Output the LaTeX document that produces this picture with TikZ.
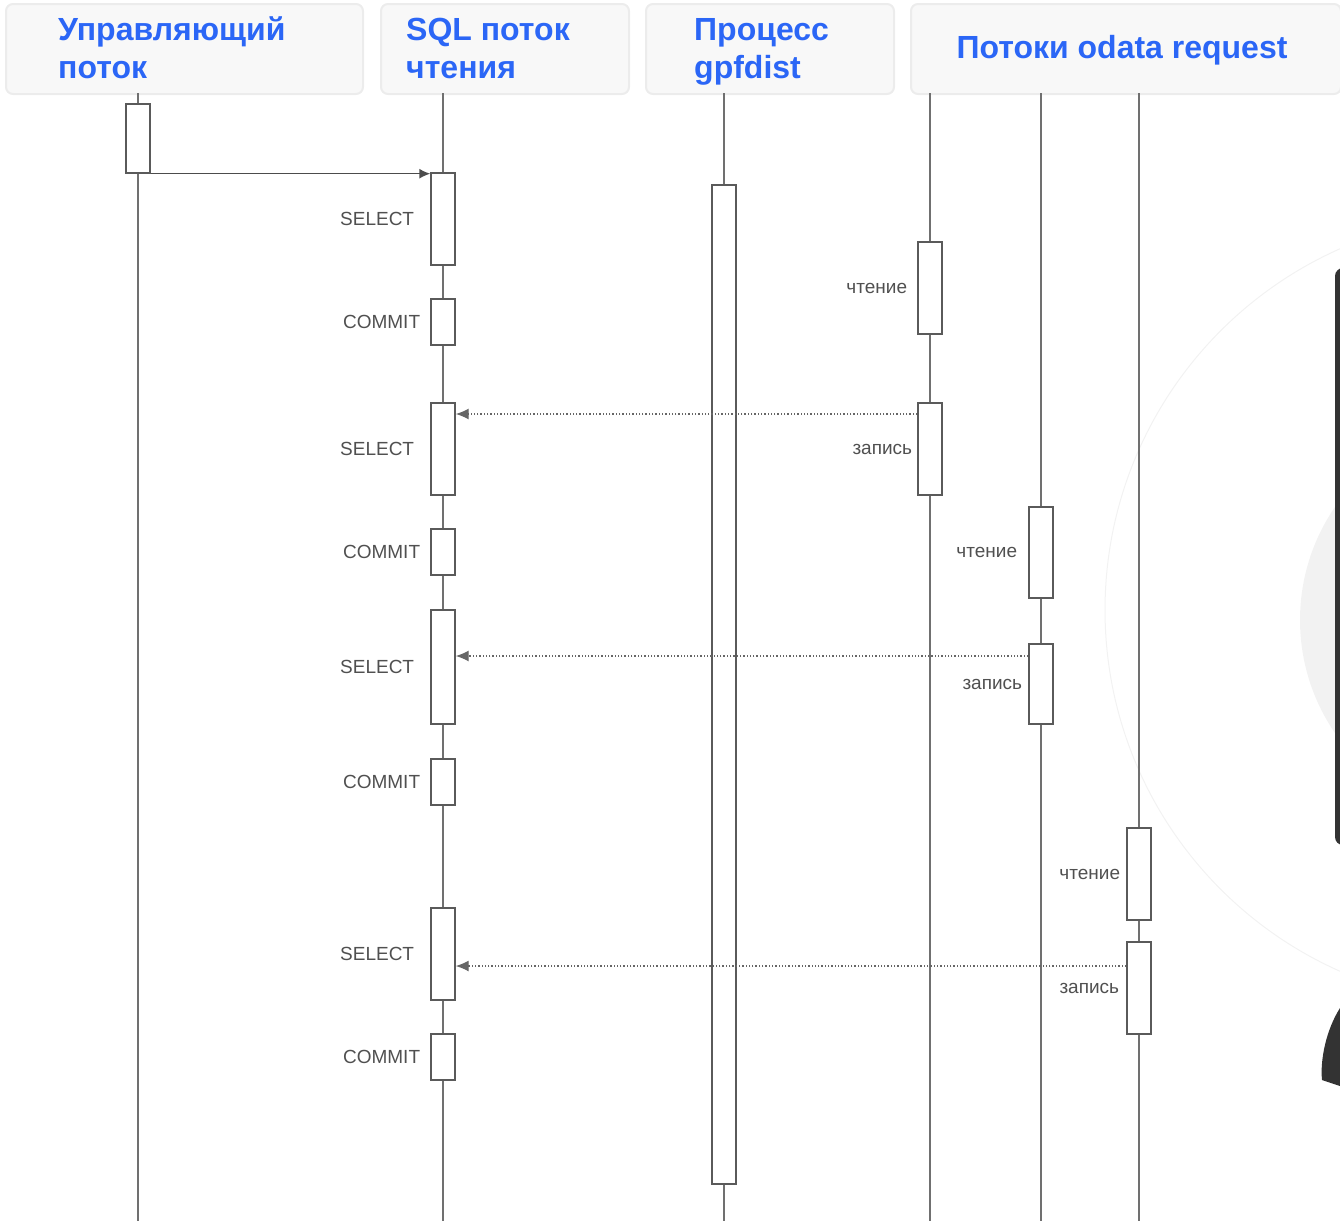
\documentclass[tikz,border=0pt]{standalone}
\usepackage{fontspec}
\setmainfont{Liberation Sans}
\usetikzlibrary{positioning,arrows.meta}

\definecolor{headblue}{HTML}{2B66F6}
\definecolor{headfill}{HTML}{F8F8F8}
\definecolor{headline}{HTML}{ECECEC}
\definecolor{lifegray}{HTML}{707070}
\definecolor{boxgray}{HTML}{5A5A5A}
\definecolor{lblgray}{HTML}{505050}

\begin{document}
\begin{tikzpicture}[x=1pt,y=-1pt,
  head/.style={draw=headline, fill=headfill, line width=2pt, rounded corners=7pt, anchor=north west, inner sep=0},
  title/.style={text=headblue, font=\fontsize{32}{38}\selectfont\bfseries, align=left, inner sep=0},
  life/.style={draw=lifegray, line width=1.4pt},
  act/.style={draw=boxgray, fill=white, line width=1.4pt, minimum width=24pt, inner sep=0},
  lbl/.style={text=lblgray, font=\fontsize{19}{22}\selectfont, inner sep=0},
  msg/.style={draw=black!70, line width=1.4pt, -{Latex[length=11pt,width=10pt]}},
  reply/.style={draw=black!60, line width=1.3pt, dotted, -{Latex[length=13pt,width=11pt]}}]
\useasboundingbox (0,0) rectangle (1340,1221);
\clip (0,0) rectangle (1340,1221);

% background bits at the right edge
\fill[black!5] (1500,620) circle (200);
\draw[black!5, line width=1pt] (1500,610) circle (395);
\fill[black!80, rounded corners=8pt] (1335,268) rectangle (1370,845);
\fill[black!80] (1340,1008) .. controls (1326,1030) and (1320,1060) .. (1322,1080) -- (1340,1086) -- cycle;

% headers
\node[head, minimum width=357pt, minimum height=90pt] (h1) at (5,3) {};
\node[head, minimum width=248pt, minimum height=90pt] (h2) at (380,3) {};
\node[head, minimum width=248pt, minimum height=90pt] (h3) at (645,3) {};
\node[head, minimum width=430pt, minimum height=90pt] (h4) at (910,3) {};
\node[title, anchor=base west] (t1) at (58,78) {Управляющий\\поток};
\node[title, anchor=base west] (t2) at (406,78) {SQL поток\\чтения};
\node[title, anchor=base west] (t3) at (694,78) {Процесс\\gpfdist};
\node[title, anchor=base] (t4) at (1122,58) {Потоки odata request};

% lifelines
\foreach \x in {138,443,724,930,1041,1139}
  \draw[life] (\x,93) -- (\x,1221);

% control thread
\node[act, minimum height=69pt] (c0) at (138,138.5) {};

% sql read thread
\node[act, minimum height=92pt]  (s1) at (443,219) {};
\node[act, minimum height=46pt]  (k1) at (443,322) {};
\node[act, minimum height=92pt]  (s2) at (443,449) {};
\node[act, minimum height=46pt]  (k2) at (443,552) {};
\node[act, minimum height=114pt] (s3) at (443,667) {};
\node[act, minimum height=46pt]  (k3) at (443,782) {};
\node[act, minimum height=92pt]  (s4) at (443,954) {};
\node[act, minimum height=46pt]  (k4) at (443,1057) {};

% gpfdist
\node[act, minimum height=999pt] (g0) at (724,684.5) {};

% odata request threads
\node[act, minimum height=92pt] (r1) at (930,288) {};
\node[act, minimum height=92pt] (w1) at (930,449) {};
\node[act, minimum height=91pt] (r2) at (1041,552.5) {};
\node[act, minimum height=80pt] (w2) at (1041,684) {};
\node[act, minimum height=92pt] (r3) at (1139,874) {};
\node[act, minimum height=92pt] (w3) at (1139,988) {};

% labels
\node[lbl, left=16pt of s1] {SELECT};
\node[lbl, left=10pt of k1] {COMMIT};
\node[lbl, left=16pt of s2] {SELECT};
\node[lbl, left=10pt of k2] {COMMIT};
\node[lbl, left=16pt of s3] {SELECT};
\node[lbl, left=10pt of k3] {COMMIT};
\node[lbl, left=16pt of s4] {SELECT};
\node[lbl, left=10pt of k4] {COMMIT};
\node[lbl, left=10pt of r1] {чтение};
\node[lbl, left=5pt of w1] {запись};
\node[lbl, left=11pt of r2] {чтение};
\node[lbl, left=6pt of w2] {запись};
\node[lbl, left=6pt of r3] {чтение};
\node[lbl, left=7pt of w3] {запись};

% messages
\draw[msg] (c0.south east) -- (c0.south east -| s1.west);
\coordinate (a1) at (w1.west |- 0,414);
\coordinate (a2) at (w2.west |- 0,656);
\coordinate (a3) at (w3.west |- 0,966);
\draw[reply] (a1) -- (a1 -| s2.east);
\draw[reply] (a2) -- (a2 -| s3.east);
\draw[reply] (a3) -- (a3 -| s4.east);
\end{tikzpicture}
\end{document}
